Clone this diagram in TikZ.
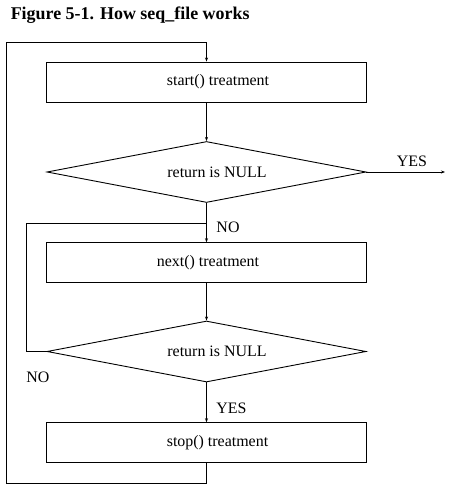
\documentclass[tikz,border=0pt]{standalone}
\usepackage{fontspec}
\setmainfont{Liberation Serif}
\usepackage{tikz}
\usetikzlibrary{arrows.meta,positioning,shapes.geometric,calc}

\begin{document}
\begin{tikzpicture}[x=1bp,y=-1bp,font=\fontsize{16}{18}\selectfont,line width=0.9bp,
  treat/.style={draw,minimum width=320bp,minimum height=40bp,inner sep=0pt},
  test/.style={draw,diamond,aspect=5.3,minimum width=319bp,minimum height=61bp,inner sep=0pt},
  flow/.style={-{Stealth[length=4bp,width=3bp]}}]
  \useasboundingbox (0,0) rectangle (458,485);
  \node[anchor=base west,font=\fontsize{18}{20}\selectfont\bfseries] (title) at (7,19.5) {Figure 5-1. How seq\_file works};
  \node[treat,label={[xshift=11.5bp]center:start() treatment}] (start) at (206.5,82) {};
  \node[test,label={[xshift=10.5bp]center:return is NULL}] (ret1) at (206.5,172) {};
  \node[treat,label={[xshift=1.5bp]center:next() treatment}] (next) at (206.5,262.7) {};
  \node[test,label={[xshift=10.5bp]center:return is NULL}] (ret2) at (206.5,351.5) {};
  \node[treat,label={[xshift=11bp]center:stop() treatment}] (stop) at (206.5,442.7) {};
  \coordinate (yesend) at (445,172);
  \coordinate (loopL) at (26.7,223);
  \coordinate (loopR) at (206.5,223);
  \coordinate (outB) at (206.5,483.3);
  \coordinate (outT) at (6.7,42);
  \draw[flow] (start)--(ret1);
  \draw[flow] (ret1.east)--(yesend);
  \draw[flow] (ret1)--(next);
  \draw[flow] (next)--(ret2);
  \draw[flow] (ret2)--(stop);
  \draw (ret2.west) -| (loopL) -- (loopR);
  \draw[flow] (stop) -- (outB) -| (outT) -| (start);
  \node (yes1) at (412,161) {YES};
  \node (no1) at (228,227.5) {NO};
  \node (no2) at (38,377) {NO};
  \node (yes2) at (231.5,408) {YES};
\end{tikzpicture}
\end{document}
